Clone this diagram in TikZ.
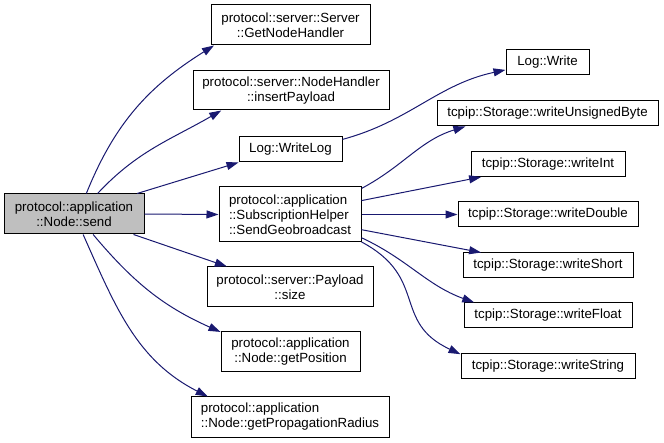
\documentclass[tikz,border=0pt]{standalone}
\usepackage{fontspec}
\setmainfont{Liberation Sans}
\usetikzlibrary{arrows.meta}
\definecolor{edgeblue}{HTML}{191970}
\definecolor{sendgray}{HTML}{BFBFBF}
\tikzset{
  fn/.style={draw=black, line width=1pt, inner sep=0pt, align=center,
    font=\fontsize{13.3}{15}\selectfont},
  call/.style={draw=edgeblue, line width=1pt,
    -{Triangle[length=12pt,width=8pt]}, edgeblue}
}
\begin{document}
\begin{tikzpicture}[x=1pt,y=1pt]
  \useasboundingbox (0,0) rectangle (664,-443);
  \node[fn, fill=sendgray, minimum width=140pt, minimum height=40pt] (0) at (74,-214)
    {protocol::application\\::Node::send};
  \node[fn, minimum width=159pt, minimum height=40pt] (1) at (290.5,-25)
    {protocol::server::Server\\::GetNodeHandler};
  \node[fn, minimum width=196pt, minimum height=39pt] (2) at (291,-90.5)
    {protocol::server::NodeHandler\\::insertPayload};
  \node[fn, minimum width=103pt, minimum height=25pt] (3) at (290.5,-149.5)
    {Log::WriteLog};
  \node[fn, align=left, minimum width=142pt, minimum height=55pt] (4) at (290,-214.5)
    {protocol::application\\::SubscriptionHelper\\::SendGeobroadcast};
  \node[fn, minimum width=166pt, minimum height=40pt] (5) at (290,-287)
    {protocol::server::Payload\\::size};
  \node[fn, minimum width=139pt, minimum height=40pt] (6) at (290.5,-352)
    {protocol::application\\::Node::getPosition};
  \node[fn, align=left, minimum width=198pt, minimum height=40pt] (7) at (290,-417)
    {protocol::application\\::Node::getPropagationRadius};
  \node[fn, minimum width=83pt, minimum height=25pt] (8) at (547.5,-62.5)
    {Log::Write};
  \node[fn, minimum width=221pt, minimum height=25pt] (9) at (547.5,-113.5)
    {tcpip::Storage::writeUnsignedByte};
  \node[fn, minimum width=154pt, minimum height=25pt] (10) at (548,-164)
    {tcpip::Storage::writeInt};
  \node[fn, minimum width=180pt, minimum height=25pt] (11) at (548,-214.5)
    {tcpip::Storage::writeDouble};
  \node[fn, minimum width=170pt, minimum height=25pt] (12) at (548,-265.5)
    {tcpip::Storage::writeShort};
  \node[fn, minimum width=168pt, minimum height=25pt] (13) at (548,-315.5)
    {tcpip::Storage::writeFloat};
  \node[fn, minimum width=174pt, minimum height=25pt] (14) at (548,-366.5)
    {tcpip::Storage::writeString};
  \begin{scope}[call]
    \draw (0.59) to[out=68,in=212] (1.195);
    \draw (0.41) to[out=47,in=210] (2.196);
    \draw (0.18) -- (3.194);
    \draw (0.east) -- (4.west);
    \draw (0.341) -- (5.162);
    \draw (0.313) to[out=-50,in=156] (6.164);
    \draw (0.294) to[out=-66,in=153] (7.166);
    \draw (3.11) to[out=15,in=192] (8.190);
    \draw (4.20) to[out=28,in=197] (9.189);
    \draw (4.11) -- (10.191);
    \draw (4.east) -- (11.west);
    \draw (4.348) -- (12.169);
    \draw (4.342) to[out=-25,in=160] (13.170);
    \draw (4.339) to[out=-28,in=155,looseness=1.3] (14.172);
  \end{scope}
\end{tikzpicture}
\end{document}
